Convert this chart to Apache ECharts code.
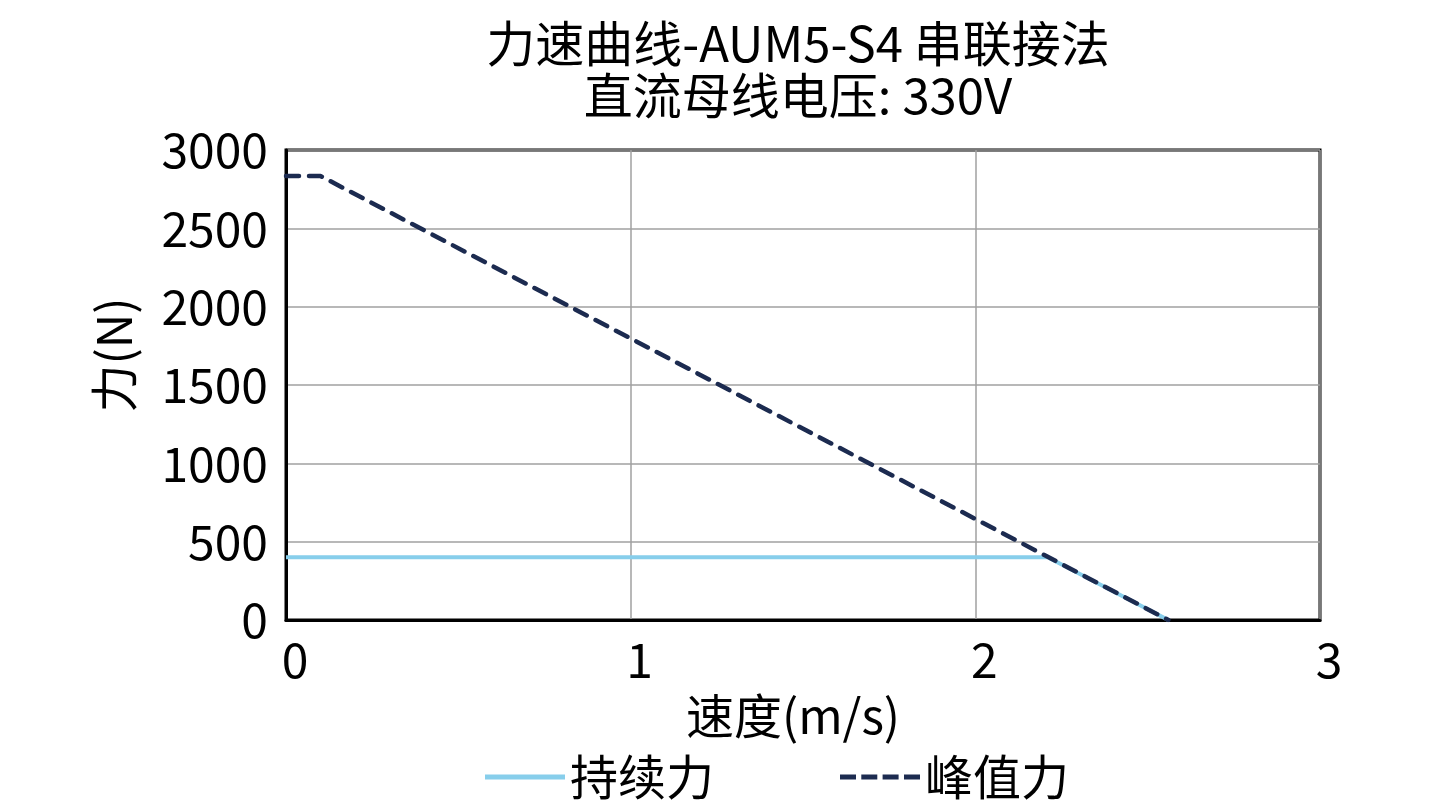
<!DOCTYPE html>
<html>
<head>
<meta charset="utf-8">
<script src="https://cdn.jsdelivr.net/npm/echarts@6/dist/echarts.min.js"></script>
<style>
html, body { margin: 0; padding: 0; background: #fff; }
#chart { width: 1438px; height: 812px; }
</style>
</head>
<body>
<div id="chart"></div>
<script>
// 速度 (m/s) / 力 (N)
const peakSpeed = [0, 0.1, 2.56];
const peakForce = [2834, 2834, 0];
const contSpeed = [0, 2.21, 2.56];
const contForce = [400, 400, 0];
const seriesNames = ['持续力', '峰值力'];

const font = '"Noto Sans CJK SC", "Noto Sans", sans-serif';
const pairs = (xs, ys) => xs.map((x, i) => [x, ys[i]]);

// legend icons: a solid bar and four dashes
const solidIcon = 'path://M0,0h80v5h-80z';
const dashIcon = 'path://M0,0h16v5h-16z M21.3,0h16v5h-16z M42.6,0h16v5h-16z M64,0h16v5h-16z';

const chart = echarts.init(document.getElementById('chart'));
chart.setOption({
    animation: false,
    textStyle: { fontFamily: font, color: '#000' },
    title: {
        text: '力速曲线-AUM5-S4 串联接法\n直流母线电压: 330V',
        left: 793,
        textAlign: 'center',
        top: 12,
        textStyle: { fontSize: 49, fontWeight: 'normal', color: '#000', lineHeight: 52, fontFamily: font }
    },
    grid: {
        left: 286, right: 118, top: 150, bottom: 192,
        show: true, borderColor: '#000', borderWidth: 3
    },
    legend: {
        top: 748,
        left: 480,
        itemWidth: 80,
        itemHeight: 5,
        itemGap: 126,
        textStyle: { fontSize: 48, color: '#000', fontFamily: font },
        data: [
            { name: seriesNames[0], icon: solidIcon },
            { name: seriesNames[1], icon: dashIcon }
        ]
    },
    xAxis: {
        type: 'value',
        min: 0, max: 3, interval: 1,
        name: '速度(m/s)',
        nameLocation: 'middle',
        nameGap: 72,
        nameTextStyle: { fontSize: 48, color: '#000', fontFamily: font, padding: [0, 20, 0, 0] },
        axisLine: { show: true, lineStyle: { color: '#000', width: 3 } },
        axisTick: { show: false },
        axisLabel: { fontSize: 48, color: '#000', margin: 16, fontFamily: font, padding: [0, 0, 0, 18] },
        splitLine: { show: true, lineStyle: { color: '#a0a0a0', width: 1.5 } }
    },
    yAxis: {
        type: 'value',
        min: 0, max: 3000, interval: 500,
        name: '力(N)',
        nameLocation: 'middle',
        nameGap: 148,
        nameTextStyle: { fontSize: 48, color: '#000', fontFamily: font, padding: [0, 0, 0, 60] },
        axisLine: { show: true, lineStyle: { color: '#000', width: 3 } },
        axisTick: { show: false },
        axisLabel: {
            fontSize: 48, color: '#000', margin: 18, fontFamily: font,
            formatter: v => String(v)
        },
        splitLine: { show: true, lineStyle: { color: '#a0a0a0', width: 1.5 } }
    },
    series: [
        {
            name: seriesNames[0],
            type: 'line',
            data: pairs(contSpeed, contForce),
            symbol: 'none',
            lineStyle: { color: '#87ceeb', width: 4 },
            itemStyle: { color: '#87ceeb' }
        },
        {
            name: seriesNames[1],
            type: 'line',
            data: pairs(peakSpeed, peakForce),
            symbol: 'none',
            lineStyle: { color: '#1c2b50', width: 4.5, type: [13, 10], cap: 'round' },
            itemStyle: { color: '#1c2b50' }
        }
    ]
});
</script>
</body>
</html>
